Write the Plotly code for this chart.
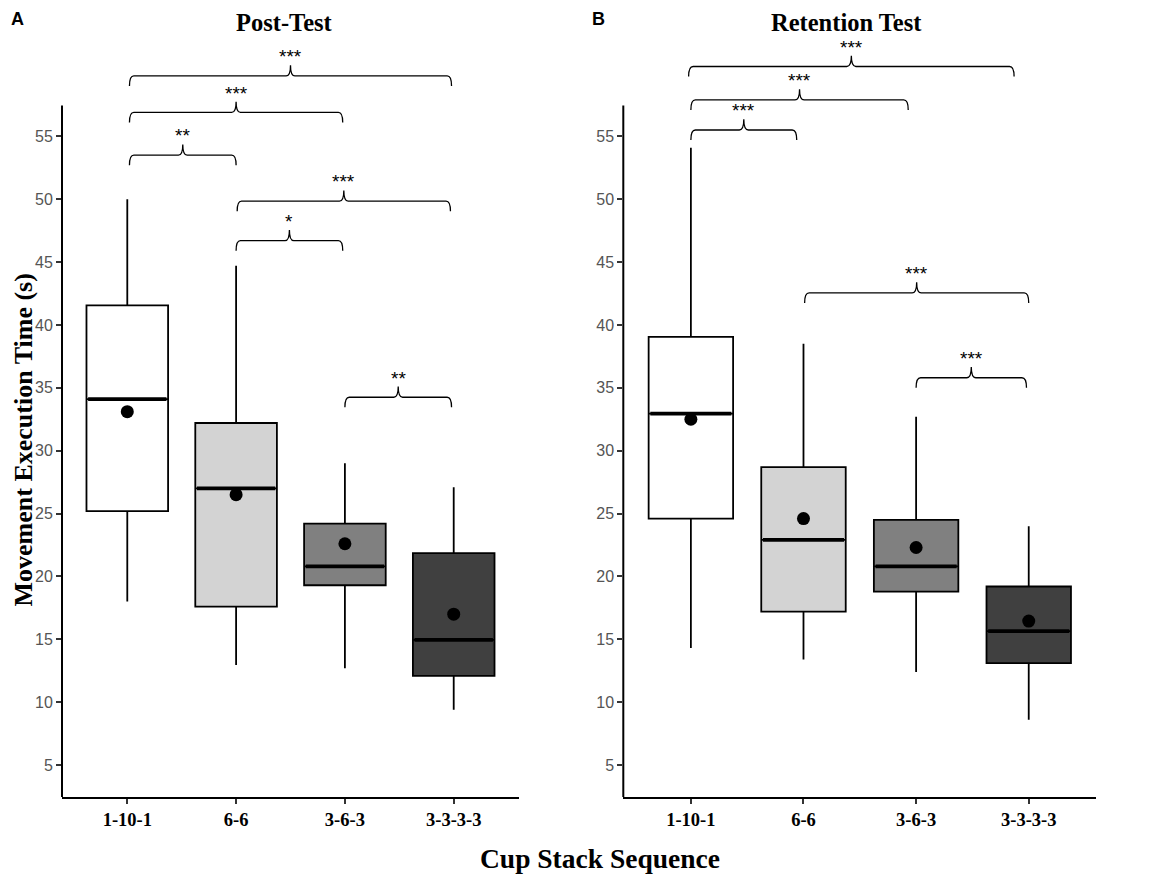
import plotly.graph_objects as go

# Categories and fill colours of the cup stack sequences
categories = ["1-10-1", "6-6", "3-6-3", "3-3-3-3"]
positions = [1, 2, 3, 4]
fills = ["#ffffff", "#d3d3d3", "#808080", "#404040"]

# Post-test box statistics (s)
post_lower = [18.0, 12.95, 12.7, 9.4]
post_q1 = [25.2, 17.6, 19.3, 12.1]
post_median = [34.1, 27.0, 20.8, 14.95]
post_q3 = [41.55, 32.2, 24.2, 21.85]
post_upper = [50.0, 44.7, 29.0, 27.1]
post_mean = [33.1, 26.5, 22.6, 17.0]

# Retention test box statistics (s)
ret_lower = [14.3, 13.4, 12.4, 8.6]
ret_q1 = [24.6, 17.2, 18.8, 13.1]
ret_median = [32.95, 22.9, 20.8, 15.65]
ret_q3 = [39.05, 28.7, 24.5, 19.2]
ret_upper = [54.1, 38.5, 32.7, 24.0]
ret_mean = [32.5, 24.6, 22.3, 16.45]

# Significance brackets: start / end position, height, label
post_br_x0 = [1.02, 1.02, 1.02, 2.01, 2.0, 3.0]
post_br_x1 = [3.98, 2.98, 2.0, 3.97, 2.98, 3.98]
post_br_h = [59.8, 56.9, 53.5, 49.85, 46.7, 34.25]
post_br_lab = ["***", "***", "**", "***", "*", "**"]

ret_br_x0 = [0.98, 1.0, 1.0, 2.01, 3.0]
ret_br_x1 = [3.87, 2.93, 1.94, 4.0, 3.98]
ret_br_h = [60.55, 57.9, 55.5, 42.55, 35.8]
ret_br_lab = ["***", "***", "***", "***", "***"]

y_ticks = [5, 10, 15, 20, 25, 30, 35, 40, 45, 50, 55]

# the page adds an 8 px body margin, so the figure is drawn 8 px smaller
OFF = 8
W, H = 1170 - OFF, 878 - OFF
MT, MB = 42 - OFF, 81
SERIF = "Liberation Serif, Times New Roman, serif"
SANS = "Liberation Sans, Arial, sans-serif"


def px_x(p):
    return (p - OFF) / W


def px_y(p):
    return (H - MB - (p - OFF)) / (H - MT - MB)


def brace_path(x0, x1, h, leg=0.8, tip=0.85, dx=0.04):
    mid = (x0 + x1) / 2
    return (f"M{x0},{h - leg} Q{x0},{h} {x0 + dx},{h} L{mid - dx},{h} "
            f"Q{mid},{h} {mid},{h + tip} Q{mid},{h} {mid + dx},{h} "
            f"L{x1 - dx},{h} Q{x1},{h} {x1},{h - leg}")


fig = go.Figure()
shapes = []
annotations = []

panels = [
    ("x", "y", post_lower, post_q1, post_median, post_q3, post_upper, post_mean,
     post_br_x0, post_br_x1, post_br_h, post_br_lab),
    ("x2", "y2", ret_lower, ret_q1, ret_median, ret_q3, ret_upper, ret_mean,
     ret_br_x0, ret_br_x1, ret_br_h, ret_br_lab),
]

for (xa, ya, lo, q1, med, q3, up, mean, bx0, bx1, bh, blab) in panels:
    for i, pos in enumerate(positions):
        fig.add_trace(go.Box(
            x=[pos], q1=[q1[i]], median=[med[i]], q3=[q3[i]],
            lowerfence=[lo[i]], upperfence=[up[i]],
            fillcolor=fills[i], line=dict(color="black", width=1.8),
            whiskerwidth=0, width=0.75, boxpoints=False,
            xaxis=xa, yaxis=ya, showlegend=False, hoverinfo="skip",
        ))
        # thick median bar
        fig.add_trace(go.Scatter(
            x=[pos - 0.36, pos + 0.36], y=[med[i], med[i]], mode="lines",
            line=dict(color="black", width=3.8), xaxis=xa, yaxis=ya,
            showlegend=False, hoverinfo="skip",
        ))
    # mean points
    fig.add_trace(go.Scatter(
        x=positions, y=mean, mode="markers",
        marker=dict(color="black", size=13), xaxis=xa, yaxis=ya,
        showlegend=False, hoverinfo="skip",
    ))
    for x0, x1, h, lab in zip(bx0, bx1, bh, blab):
        shapes.append(dict(type="path", path=brace_path(x0, x1, h),
                           xref=xa, yref=ya, line=dict(color="black", width=1.3)))
        annotations.append(dict(x=(x0 + x1) / 2, y=h + 0.85, xref=xa, yref=ya,
                                text=lab, showarrow=False, yanchor="bottom", yshift=-4,
                                font=dict(family=SANS, size=19, color="black")))
    # y axis line only up to the top of the data region
    shapes.append(dict(type="line", xref=xa + " domain", yref=ya, x0=0, x1=0,
                       y0=2.46, y1=57.46, line=dict(color="black", width=2)))

axis_x = dict(range=[0.4, 4.6], tickvals=positions, ticktext=categories,
              showline=True, linecolor="black", linewidth=2, ticks="outside",
              ticklen=5, tickwidth=1.5, tickcolor="#333", showgrid=False,
              zeroline=False, automargin=False,
              tickfont=dict(family=SERIF, size=18.5, color="black", weight="bold"))
axis_y = dict(range=[2.46, 62.5], tickvals=y_ticks, showline=False,
              ticks="outside", ticklen=5, tickwidth=1.5, tickcolor="#333",
              showgrid=False, zeroline=False, automargin=False,
              tickfont=dict(family=SANS, size=16, color="#555555"))

# panel letters, titles and axis titles
annotations += [
    dict(x=px_x(17), y=px_y(OFF), xanchor="center", yanchor="top", text="A",
         font=dict(family=SANS, size=18, color="black", weight="bold")),
    dict(x=px_x(598), y=px_y(OFF), xanchor="center", yanchor="top", text="B",
         font=dict(family=SANS, size=18, color="black", weight="bold")),
    dict(x=px_x(284), y=px_y(OFF), xanchor="center", yanchor="top", text="Post-Test",
         font=dict(family=SERIF, size=24.5, color="black", weight="bold")),
    dict(x=px_x(846), y=px_y(OFF), xanchor="center", yanchor="top", text="Retention Test",
         font=dict(family=SERIF, size=24.5, color="black", weight="bold")),
    dict(x=px_x(600), y=px_y(858), xanchor="center", yanchor="middle", text="Cup Stack Sequence",
         font=dict(family=SERIF, size=27.5, color="black", weight="bold")),
    dict(x=px_x(OFF), y=px_y(440), xanchor="left", yanchor="middle",
         text="Movement Execution Time (s)", textangle=-90,
         font=dict(family=SERIF, size=26, color="black", weight="bold")),
]
for a in annotations[-6:]:
    a.update(xref="paper", yref="paper", showarrow=False, borderpad=0)

fig.update_layout(
    width=W, height=H,
    margin=dict(l=0, r=0, t=MT, b=MB),
    paper_bgcolor="white", plot_bgcolor="white",
    xaxis=dict(axis_x, domain=[px_x(62), px_x(519)], anchor="y"),
    yaxis=dict(axis_y, domain=[0, 1], anchor="x"),
    xaxis2=dict(axis_x, domain=[px_x(623.3), px_x(1096.3)], anchor="y2"),
    yaxis2=dict(axis_y, domain=[0, 1], anchor="x2"),
    shapes=shapes,
    annotations=annotations,
    showlegend=False,
)

fig.write_html("out.html")
